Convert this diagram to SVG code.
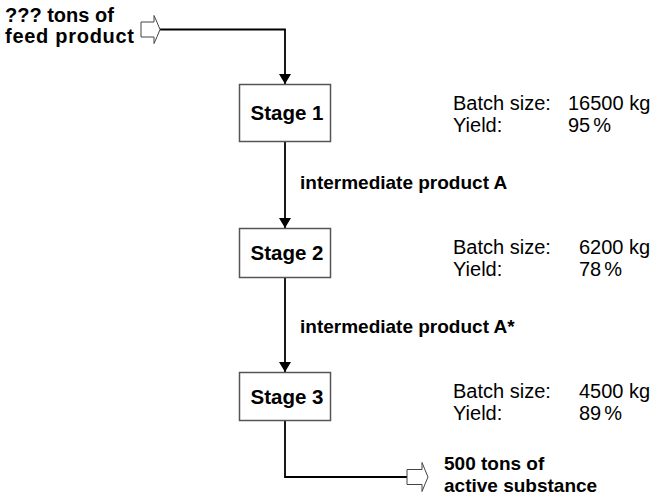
<svg xmlns="http://www.w3.org/2000/svg" width="657" height="502" viewBox="0 0 657 502">
<defs>
<style>
.lbl{font-family:"Liberation Sans",Arial,sans-serif;font-weight:bold;font-size:19px;fill:#000}
.big{font-size:20px}
.stg{font-size:20.5px}
.inf{font-family:"Liberation Sans",Arial,sans-serif;font-size:20px;fill:#000}
.box{fill:#fff;stroke:#555;stroke-width:1.5}
.ln{fill:none;stroke:#000;stroke-width:1.8}
.hollow{fill:#fff;stroke:#444;stroke-width:1}
</style>
<marker id="ah" viewBox="0 0 10 12" refX="10" refY="6" markerWidth="10" markerHeight="12" markerUnits="userSpaceOnUse" orient="auto">
<path d="M0,0 L10,6 L0,12 Z" fill="#000"/>
</marker>
</defs>
<rect width="657" height="502" fill="#fff"/>
<g id="connectors">
<path class="ln" d="M160,29.5 H285 V84" marker-end="url(#ah)"/>
<path class="ln" d="M285,142 V228" marker-end="url(#ah)"/>
<path class="ln" d="M285,278 V372" marker-end="url(#ah)"/>
<path class="ln" d="M285,421 V477 H407"/>
<path class="hollow" d="M141,22 H154 V15.5 Q157,22 160,29.5 Q157,37 154,43.5 V37 H141 Z"/>
<path class="hollow" d="M407,469.5 H422 V462.5 Q425,470 428,477 Q425,484 422,491.5 V484.5 H407 Z"/>
</g>
<g id="feed">
<text class="lbl big" x="5" y="22">??? tons of</text>
<text class="lbl big" x="5" y="43" textLength="129" lengthAdjust="spacing">feed product</text>
</g>
<g id="stage1">
<rect class="box" x="239.5" y="84.5" width="91" height="57"/>
<text class="lbl stg" x="287" y="120" text-anchor="middle">Stage 1</text>
</g>
<g id="info1">
<text class="inf" x="453" y="110">Batch size:</text>
<text class="inf" x="568" y="110">16500 kg</text>
<text class="inf" x="453" y="132">Yield:</text>
<text class="inf" x="568" y="132">95<tspan dx="3">%</tspan></text>
</g>
<g id="labelA">
<text class="lbl" x="300" y="189">intermediate product A</text>
</g>
<g id="stage2">
<rect class="box" x="239.5" y="228.5" width="91" height="49"/>
<text class="lbl stg" x="287" y="260" text-anchor="middle">Stage 2</text>
</g>
<g id="info2">
<text class="inf" x="453" y="254">Batch size:</text>
<text class="inf" x="579" y="254">6200 kg</text>
<text class="inf" x="453" y="276">Yield:</text>
<text class="inf" x="579" y="276">78<tspan dx="3">%</tspan></text>
</g>
<g id="labelAstar">
<text class="lbl" x="300" y="333">intermediate product A*</text>
</g>
<g id="stage3">
<rect class="box" x="239.5" y="372.5" width="91" height="48"/>
<text class="lbl stg" x="287" y="404" text-anchor="middle">Stage 3</text>
</g>
<g id="info3">
<text class="inf" x="453" y="398">Batch size:</text>
<text class="inf" x="579" y="398">4500 kg</text>
<text class="inf" x="453" y="420">Yield:</text>
<text class="inf" x="579" y="420">89<tspan dx="3">%</tspan></text>
</g>
<g id="product">
<text class="lbl" x="444" y="470">500 tons of</text>
<text class="lbl" x="444" y="492">active substance</text>
</g>
</svg>
